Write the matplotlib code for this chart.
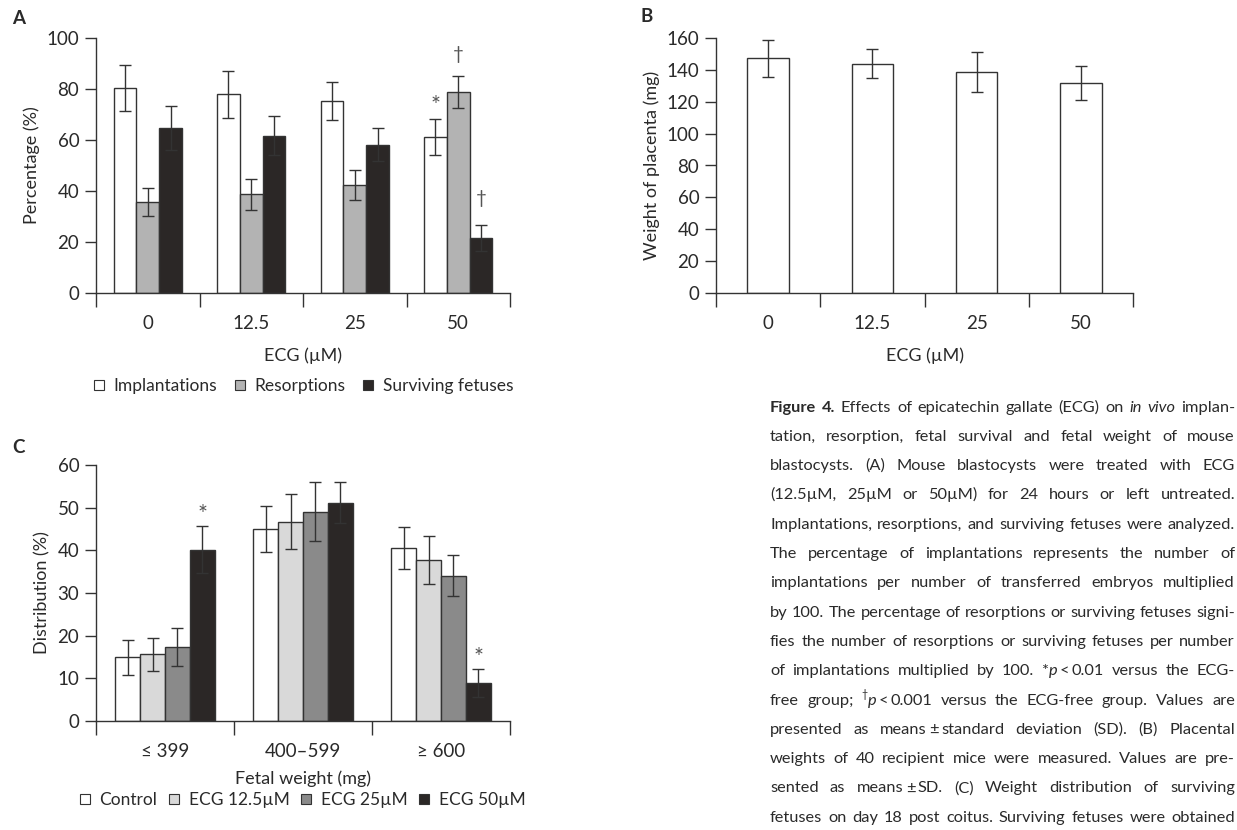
import re
import numpy as np
import matplotlib
matplotlib.use('Agg')
import matplotlib.pyplot as plt
from matplotlib.lines import Line2D

# ---- data ----
ecg_levels = ['0', '12.5', '25', '50']

implantations = [80.4, 77.9, 75.4, 61.2]
implantations_sd = [9.0, 9.1, 7.5, 7.2]
resorptions = [35.7, 38.7, 42.4, 78.8]
resorptions_sd = [5.6, 6.1, 5.8, 6.4]
surviving = [64.8, 61.7, 58.2, 21.6]
surviving_sd = [8.6, 7.7, 6.4, 5.2]

placenta = [147.3, 143.9, 138.7, 131.6]
placenta_sd = [11.5, 9.3, 12.3, 10.6]

weight_bins = ['\u2264 399', '400\u2013599', '\u2265 600']
control = [14.9, 45.1, 40.6]
control_sd = [4.2, 5.4, 4.9]
ecg125 = [15.6, 46.7, 37.8]
ecg125_sd = [3.8, 6.4, 5.6]
ecg25 = [17.3, 49.0, 34.0]
ecg25_sd = [4.5, 6.9, 4.8]
ecg50 = [40.1, 51.2, 9.0]
ecg50_sd = [5.5, 4.7, 3.3]

caption = [
    "#Figure# #4.# Effects of epicatechin gallate (ECG) on _in_ _vivo_ implan-",
    "tation, resorption, fetal survival and fetal weight of mouse",
    "blastocysts. (A) Mouse blastocysts were treated with ECG",
    "(12.5\u00b5M, 25\u00b5M or 50\u00b5M) for 24 hours or left untreated.",
    "Implantations, resorptions, and surviving fetuses were analyzed.",
    "The percentage of implantations represents the number of",
    "implantations per number of transferred embryos multiplied",
    "by 100. The percentage of resorptions or surviving fetuses signi-",
    "fies the number of resorptions or surviving fetuses per number",
    "of implantations multiplied by 100. *_p_~<~0.01 versus the ECG-",
    "free group; ^\u2020^_p_~<~0.001 versus the ECG-free group. Values are",
    "presented as means~\u00b1~standard deviation (SD). (B) Placental",
    "weights of 40 recipient mice were measured. Values are pre-",
    "sented as means~\u00b1~SD. (C) Weight distribution of surviving",
    "fetuses on day 18 post coitus. Surviving fetuses were obtained",
]

W, H = 1237, 830
TXT = '#2a2a2a'
EDGE = '#333333'
FS = 12.5      # legend base
TICK_FS = 13.5
LAB_FS = 13

plt.rcParams['font.family'] = ['Lato', 'DejaVu Sans']
plt.rcParams['text.color'] = TXT
plt.rcParams['axes.labelcolor'] = TXT
plt.rcParams['xtick.color'] = EDGE
plt.rcParams['ytick.color'] = EDGE
plt.rcParams['xtick.labelcolor'] = TXT
plt.rcParams['ytick.labelcolor'] = TXT
plt.rcParams['font.size'] = FS

fig = plt.figure(figsize=(W / 100, H / 100), dpi=100)


def px_axes(left, top, right, bottom):
    return fig.add_axes([left / W, 1 - bottom / H, (right - left) / W, (bottom - top) / H])


def style_axes(ax, ncat, labels, ymax, ystep):
    ax.set_xlim(-0.5, ncat - 0.5)
    ax.set_ylim(0, ymax)
    ax.set_yticks(np.arange(0, ymax + 1, ystep))
    ax.set_xticks(np.arange(-0.5, ncat, 1.0))
    ax.set_xticklabels([])
    ax.set_xticks(np.arange(ncat), minor=True)
    ax.set_xticklabels(labels, minor=True)
    ax.tick_params(axis='x', which='major', direction='out', length=10, width=1)
    ax.tick_params(axis='x', which='minor', length=0, pad=16, labelsize=TICK_FS)
    ax.tick_params(axis='y', direction='out', length=8, width=1, pad=4, labelsize=TICK_FS)
    for s in ['top', 'right']:
        ax.spines[s].set_visible(False)
    for s in ['left', 'bottom']:
        ax.spines[s].set_color(EDGE)
        ax.spines[s].set_linewidth(1)


def bars(ax, x, vals, sd, color, width):
    ax.bar(x, vals, width, color=color, edgecolor=EDGE, linewidth=1, zorder=2)
    ax.errorbar(x, vals, yerr=sd, fmt='none', ecolor=EDGE, elinewidth=1,
                capsize=4, capthick=1, zorder=3)


def mark(ax, x, y, s, size):
    ax.text(x, y, s, ha='center', va='center', color='#555555', fontsize=size, clip_on=False)


# ---- panel A ----
axA = px_axes(96, 38, 510, 293)
xa = np.arange(len(ecg_levels))
wa = 0.22
bars(axA, xa - wa, implantations, implantations_sd, 'white', wa)
bars(axA, xa, resorptions, resorptions_sd, '#b3b3b3', wa)
bars(axA, xa + wa, surviving, surviving_sd, '#2b2726', wa)
style_axes(axA, 4, ecg_levels, 100, 20)
axA.set_ylabel('Percentage (%)', labelpad=5, fontsize=LAB_FS)
axA.set_xlabel('ECG (\u00b5M)', labelpad=11, fontsize=LAB_FS)
mark(axA, 3 - wa, 73.5, '*', 17)
mark(axA, 3, 93.5, '\u2020', TICK_FS)
mark(axA, 3 + wa, 37, '\u2020', TICK_FS)

hA = [Line2D([], [], marker='s', ls='none', markersize=7.5, markerfacecolor=c,
             markeredgecolor=EDGE, markeredgewidth=0.8)
      for c in ['white', '#b3b3b3', '#2b2726']]
fig.legend(hA, ['Implantations', 'Resorptions', 'Surviving fetuses'], loc='center',
           bbox_to_anchor=(303 / W, 1 - 386 / H), ncol=3, frameon=False, fontsize=FS,
           handlelength=0.7, handletextpad=0.5, columnspacing=0.95, borderpad=0)

# ---- panel B ----
axB = px_axes(716, 38, 1133, 293)
bars(axB, np.arange(len(ecg_levels)), placenta, placenta_sd, 'white', 0.4)
style_axes(axB, 4, ecg_levels, 160, 20)
axB.set_ylabel('Weight of placenta (mg)', labelpad=5, fontsize=LAB_FS)
axB.set_xlabel('ECG (\u00b5M)', labelpad=11, fontsize=LAB_FS)

# ---- panel C ----
axC = px_axes(96, 465, 510, 721)
xc = np.arange(len(weight_bins))
wc = 0.18
cols_c = ['white', '#d9d9d9', '#8a8a8a', '#2b2726']
for j, (v, e) in enumerate([(control, control_sd), (ecg125, ecg125_sd),
                            (ecg25, ecg25_sd), (ecg50, ecg50_sd)]):
    bars(axC, xc + (j - 1.5) * wc, v, e, cols_c[j], wc)
style_axes(axC, 3, weight_bins, 60, 10)
axC.set_ylabel('Distribution (%)', labelpad=5, fontsize=LAB_FS)
axC.set_xlabel('Fetal weight (mg)', labelpad=7, fontsize=LAB_FS)
mark(axC, 0 + 1.5 * wc, 48.5, '*', 17)
mark(axC, 2 + 1.5 * wc, 14.9, '*', 17)

hC = [Line2D([], [], marker='s', ls='none', markersize=7.5, markerfacecolor=c,
             markeredgecolor=EDGE, markeredgewidth=0.8) for c in cols_c]
fig.legend(hC, ['Control', 'ECG 12.5\u00b5M', 'ECG 25\u00b5M', 'ECG 50\u00b5M'], loc='center',
           bbox_to_anchor=(302 / W, 1 - 800 / H), ncol=4, frameon=False, fontsize=FS,
           handlelength=0.7, handletextpad=0.5, columnspacing=0.6, borderpad=0)

# panel letters
for letter, (lx, ly) in {'A': (12, 18), 'B': (641, 16), 'C': (12, 447)}.items():
    fig.text(lx / W, 1 - ly / H, letter, fontsize=13.5, fontweight='bold', va='center', ha='left')

# ---- justified caption ----
renderer = fig.canvas.get_renderer()
X0, X1 = 770, 1235
Y0, DY = 411.5, 29.3
BASE = 11.8
MIN_SPACE = 0.14  # em


def parse(word):
    parts = []
    for tok in re.split(r'(_[^_]+_|\^[^^]+\^|#[^#]+#|~)', word):
        if not tok:
            continue
        if tok == '~':
            parts.append(('', 'gap'))
        elif tok[0] == '_':
            parts.append((tok[1:-1], 'i'))
        elif tok[0] == '^':
            parts.append((tok[1:-1], 's'))
        elif tok[0] == '#':
            parts.append((tok[1:-1], 'b'))
        else:
            parts.append((tok, 'n'))
    return parts


def make_piece(txt, st, size):
    kw = dict(fontsize=size, color=TXT, va='baseline', ha='left')
    if st == 'b':
        kw['fontweight'] = 'bold'
    if st == 'i':
        kw['fontstyle'] = 'italic'
    if st == 's':
        kw['fontsize'] = size * 0.65
    return fig.text(0, 0, txt, **kw)


def layout_line(line, size):
    words = []
    for w in line.split(' '):
        items = []
        for txt, st in parse(w):
            if st == 'gap':
                items.append((None, size * 0.15 * 100 / 72, st))
            else:
                t = make_piece(txt, st, size)
                items.append((t, t.get_window_extent(renderer).width, st))
        words.append(items)
    return words


for i, line in enumerate(caption):
    size = BASE
    ws = layout_line(line, size)
    nat = sum(it[1] for w in ws for it in w) + (len(ws) - 1) * size * MIN_SPACE * 100 / 72
    if nat > X1 - X0:
        for w in ws:
            for t, _, _ in w:
                if t is not None:
                    t.remove()
        size = size * (X1 - X0) / nat
        ws = layout_line(line, size)
    y = Y0 + i * DY
    wsum = sum(it[1] for w in ws for it in w)
    gap = (X1 - X0 - wsum) / (len(ws) - 1)
    x = X0
    for w in ws:
        for t, wd, st in w:
            if t is not None:
                yy = y - (size * 0.42 * 100 / 72 if st == 's' else 0)
                t.set_position((x / W, 1 - yy / H))
            x += wd
        x += gap

fig.savefig('out.png', dpi=100)
